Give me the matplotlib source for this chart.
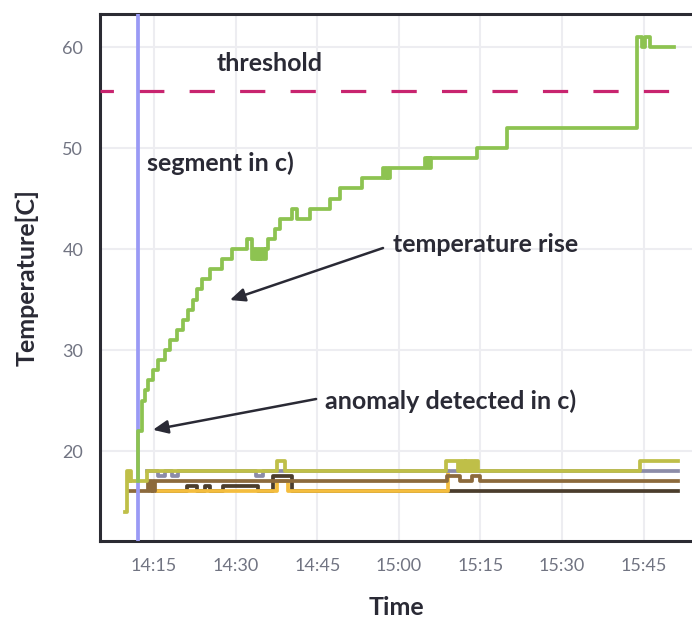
import matplotlib
matplotlib.use("Agg")
import matplotlib.pyplot as plt

# time in minutes after 14:00, temperature in C (step series, value holds until next time)
green_t = [12.06, 12.1, 12.74, 13.35, 13.95, 14.87, 15.79, 17.02, 17.94, 19.17, 20.39,
           21.3, 22.22, 22.85, 23.77, 25.29, 27.44, 29.28, 32.04, 32.96,
           33.25, 33.55, 33.85, 34.15, 34.45, 34.75, 35.05, 35.35, 35.65, 36.0,
           37.24, 38.16, 40.31, 41.23, 43.68, 47.35, 49.19, 53.3,
           57.15, 57.45, 57.75, 58.05, 58.35, 58.69,
           64.8, 65.1, 65.4, 65.7, 66.0, 74.3, 79.8,
           103.7, 104.65, 105.26, 106.18, 110.64]
green_v = [17, 22, 25, 26, 27, 28, 29, 30, 31, 32, 33,
           34, 35, 36, 37, 38, 39, 40, 41, 39,
           40, 39, 40, 39, 40, 39, 40, 39, 40, 41,
           42, 43, 44, 43, 44, 45, 46, 47,
           48, 47, 48, 47, 48, 48,
           49, 48, 49, 48, 49, 50, 52,
           61, 60, 61, 60, 60]

olive_t = [9.7, 10.0, 10.3, 10.5, 10.8, 13.7, 37.55, 39.08, 68.68, 70.88,
           71.2, 71.5, 71.8, 72.1, 72.4, 72.7, 73.0, 73.3, 73.6, 73.9, 74.2, 74.5,
           74.93, 104.34, 111.3]
olive_v = [14, 18, 17, 18, 17, 18, 19, 18, 19, 18,
           19, 18, 19, 18, 19, 18, 19, 18, 19, 18, 19, 18,
           18, 19, 19]

brown_t = [10.6, 13.95, 14.25, 14.55, 14.85, 15.15, 15.5, 68.8, 71.25, 73.46, 74.93, 111.3]
brown_v = [16, 17, 16, 17, 16, 17, 17, 17.5, 17, 17.5, 17, 17]

grey_t = [13.7, 15.74, 17.02, 18.3, 19.41, 33.75, 34.98, 111.3]
grey_v = [18, 17.5, 18, 17.5, 18, 17.5, 18, 18]

dark_t = [15.5, 21.07, 22.9, 24.38, 25.29, 27.68, 34.12, 36.88, 40.37, 111.3]
dark_v = [16, 16.5, 16, 16.5, 16, 16.5, 16, 17.5, 16, 16]

orange_t = [15.5, 37.55, 39.69, 69.1]
orange_v = [16, 17, 16, 18]

threshold = 55.64
segment_t = 12.04

xticks = [15, 30, 45, 60, 75, 90, 105]
xtick_labels = ["14:15", "14:30", "14:45", "15:00", "15:15", "15:30", "15:45"]
yticks = [20, 30, 40, 50, 60]

plt.rcParams['font.family'] = ['Lato', 'DejaVu Sans']

fig = plt.figure(figsize=(6.92, 6.18), dpi=100)
ax = fig.add_axes([100 / 692, 77 / 618, 592 / 692, 527 / 618])

lw = 2.7
ax.step(dark_t, dark_v, where='post', color='#4b3d2c', lw=lw, zorder=2)
ax.step(orange_t, orange_v, where='post', color='#f4bd3e', lw=lw, zorder=3)
ax.step(brown_t, brown_v, where='post', color='#8c6a3c', lw=lw, zorder=4)
ax.step(grey_t, grey_v, where='post', color='#8c8ca8', lw=lw, zorder=5)
ax.step(olive_t, olive_v, where='post', color='#bfbf48', lw=lw, zorder=6)
ax.axvline(segment_t, color='#9a9af5', lw=lw, zorder=7)
ax.step(green_t, green_v, where='post', color='#8dc351', lw=lw, zorder=8)
ax.axhline(threshold, color='#c8246f', lw=2.3, linestyle=(3.7, (7.9, 7.9)), zorder=6)

text_kw = dict(fontsize=18, fontweight='bold', color='#2a2a35', va='center', ha='left', zorder=10)
ax.text(26.6, 58.4, "threshold", **text_kw)
ax.text(13.7, 48.5, "segment in c)", **text_kw)
arrow_kw = dict(arrowstyle='-|>,head_length=0.9,head_width=0.4', color='#2a2a35', lw=1.8,
                shrinkA=0, shrinkB=0)
ax.annotate("", xy=(28.95, 34.95), xytext=(57.1, 40.1), arrowprops=arrow_kw, zorder=10)
ax.text(58.9, 40.4, "temperature rise", **text_kw)
ax.annotate("", xy=(14.8, 22.1), xytext=(44.8, 25.15), arrowprops=arrow_kw, zorder=10)
ax.text(46.4, 24.95, "anomaly detected in c)", **text_kw)

ax.set_xlim(5.07, 113.9)
ax.set_ylim(11.09, 63.27)
ax.set_xticks(xticks)
ax.set_xticklabels(xtick_labels)
ax.set_yticks(yticks)
ax.grid(True, color='#ededf1', lw=1.5, zorder=0)
ax.set_axisbelow(True)
ax.tick_params(length=0, labelsize=13, labelcolor='#717482', pad=12)

for side in ['left', 'top', 'bottom']:
    ax.spines[side].set_linewidth(2.2)
    ax.spines[side].set_color('#2b2b33')
ax.spines['right'].set_visible(False)

ax.set_xlabel("Time", fontsize=18, fontweight='bold', color='#2a2a35', labelpad=16)
ax.set_ylabel("Temperature[C]", fontsize=18, fontweight='bold', color='#2a2a35', labelpad=17)

fig.savefig("out.png", dpi=100)
